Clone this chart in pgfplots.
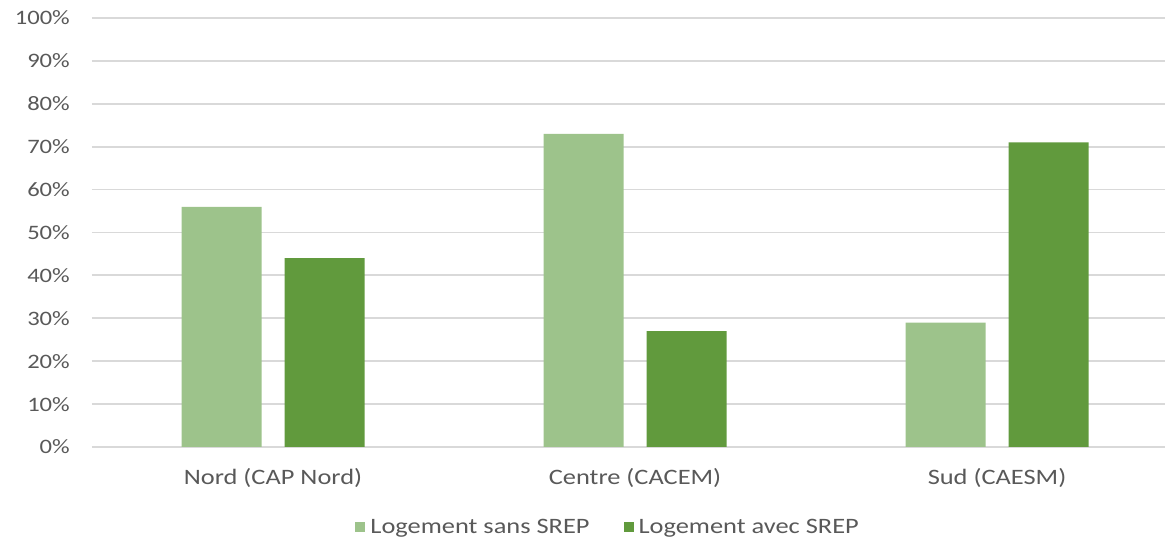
\documentclass[border=0pt]{standalone}
\usepackage{pgfplots}
\pgfplotsset{compat=1.18}
\usepackage{fontspec}
\setmainfont[FakeStretch=1.2]{Carlito}
\definecolor{lightg}{HTML}{9DC38B}
\definecolor{darkg}{HTML}{619A3D}
\definecolor{gridc}{HTML}{D9D9D9}
\definecolor{txt}{HTML}{595959}
\begin{document}
\begin{tikzpicture}
\begin{axis}[
  scale only axis,
  width=1073pt, height=429pt,
  xmin=-0.5, xmax=2.464,
  ymin=0, ymax=100,
  ytick={0,10,...,100},
  yticklabel={\pgfmathprintnumber{\tick}\%},
  /pgf/number format/assume math mode=true,
  xtick={0,1,2},
  xticklabels={Nord (CAP Nord),Centre (CACEM),Sud (CAESM)},
  axis line style={draw=none},
  major tick length=0pt,
  ymajorgrids,
  grid style={gridc, line width=1.8pt},
  tick label style={text=txt, inner sep=0pt},
  yticklabel style={font=\fontsize{20.5}{24}\selectfont, anchor=east, xshift=-22pt},
  xticklabel style={font=\fontsize{22}{26}\selectfont, anchor=base, yshift=-38pt},
  ybar, bar width=80pt,
  legend columns=2,
  legend style={draw=none, fill=none, at={(rel axis cs:0.481,0)}, anchor=center, yshift=-80pt,
    font=\fontsize{22}{26}\selectfont, text=txt, inner sep=0pt,
    /tikz/every even column/.append style={column sep=32pt}},
  legend image code/.code={\fill[#1] (0pt,-5pt) rectangle (10pt,5pt);},
  clip=false,
]
\addplot[fill=lightg, draw=none, bar shift=-51.5pt] coordinates {(0,56) (1,73) (2,29)};
\addplot[fill=darkg, draw=none, bar shift=51.5pt] coordinates {(0,44) (1,27) (2,71)};
\legend{\hspace{3pt}Logement sans SREP, \hspace{3pt}Logement avec SREP}
\coordinate (sw) at (rel axis cs:0,0);
\coordinate (ne) at (rel axis cs:1,1);
\end{axis}
\pgfresetboundingbox
\path ([xshift=-92pt,yshift=-99pt]sw) rectangle ([yshift=18pt]ne);
\end{tikzpicture}
\end{document}
